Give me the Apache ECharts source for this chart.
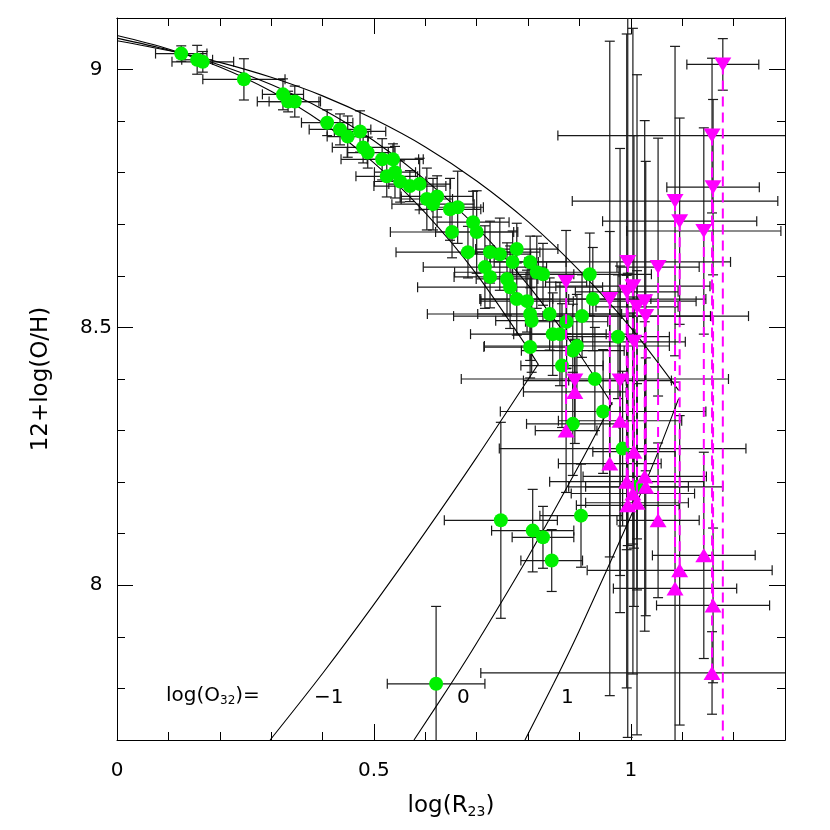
<!DOCTYPE html>
<html>
<head>
<meta charset="utf-8">
<script src="https://cdn.jsdelivr.net/npm/echarts@6/dist/echarts.min.js"></script>
<style>
  html, body { margin: 0; padding: 0; background: #fff; }
  #chart { width: 830px; height: 830px; }
</style>
</head>
<body>
<div id="chart"></div>
<script>
// axis ticks
var xLabels = [0, 0.5, 1];
var xMinor = [0.1, 0.2, 0.3, 0.4, 0.6, 0.7, 0.8, 0.9, 1.1, 1.2];
var yLabels = [8, 8.5, 9];
var yMinor = [7.8, 7.9, 8.1, 8.2, 8.3, 8.4, 8.6, 8.7, 8.8, 8.9];

// calibration curves, log(O32) = -1, 0, 1
var upX_m1 = [0, 0.1, 0.2, 0.3, 0.4, 0.5, 0.6, 0.7, 0.8, 0.82];
var upY_m1 = [9.066, 9.040, 9.005, 8.958, 8.897, 8.819, 8.722, 8.603, 8.459, 8.428];
var upX_0 = [0, 0.1, 0.2, 0.3, 0.4, 0.5, 0.6, 0.7, 0.8, 0.9, 0.964];
var upY_0 = [9.061, 9.038, 9.009, 8.971, 8.923, 8.862, 8.786, 8.694, 8.582, 8.448, 8.350];
var upX_1 = [0, 0.1, 0.2, 0.3, 0.4, 0.5, 0.6, 0.7, 0.8, 0.9, 1.0, 1.093];
var upY_1 = [9.056, 9.037, 9.014, 8.985, 8.949, 8.904, 8.850, 8.784, 8.705, 8.610, 8.499, 8.378];
var loX_m1 = [0.298, 0.4, 0.5, 0.6, 0.7, 0.8, 0.82];
var loY_m1 = [7.70, 7.829, 7.963, 8.103, 8.248, 8.399, 8.429];
var loX_0 = [0.578, 0.65, 0.7, 0.8, 0.9, 0.964];
var loY_0 = [7.70, 7.809, 7.888, 8.055, 8.234, 8.355];
var loX_1 = [0.794, 0.85, 0.9, 1.0, 1.05, 1.093];
var loY_1 = [7.70, 7.810, 7.913, 8.134, 8.251, 8.362];

// green galaxies
var greenX = [0.125, 0.156, 0.167, 0.247, 0.323, 0.333, 0.346, 0.409, 0.434, 0.449,
              0.473, 0.479, 0.488, 0.516, 0.537, 0.525, 0.541, 0.551, 0.570, 0.589,
              0.603, 0.623, 0.615, 0.648, 0.663, 0.652, 0.693, 0.700, 0.683, 0.726,
              0.745, 0.778, 0.716, 0.726, 0.759, 0.770, 0.804, 0.817, 0.829, 0.765,
              0.778, 0.798, 0.804, 0.807, 0.842, 0.905, 0.875, 0.848, 0.862, 0.920,
              0.926, 0.804, 0.895, 0.887, 0.866, 0.930, 0.975, 0.946, 0.887, 0.984,
              1.012, 0.903, 0.747, 0.809, 0.829, 0.846, 0.621];
var greenY = [9.031, 9.019, 9.015, 8.981, 8.952, 8.938, 8.938, 8.897, 8.884, 8.870,
              8.880, 8.849, 8.839, 8.826, 8.826, 8.793, 8.801, 8.783, 8.774, 8.778,
              8.749, 8.754, 8.739, 8.729, 8.733, 8.685, 8.704, 8.685, 8.646, 8.646,
              8.642, 8.652, 8.617, 8.598, 8.594, 8.627, 8.627, 8.607, 8.603, 8.578,
              8.555, 8.551, 8.526, 8.513, 8.526, 8.522, 8.511, 8.487, 8.487, 8.603,
              8.555, 8.462, 8.464, 8.455, 8.426, 8.400, 8.482, 8.337, 8.313, 8.265,
              8.191, 8.135, 8.126, 8.106, 8.093, 8.048, 7.809];
var greenXErr = [0.05, 0.03, 0.06, 0.08, 0.04, 0.06, 0.05, 0.05, 0.06, 0.04,
                 0.05, 0.06, 0.04, 0.08, 0.05, 0.06, 0.04, 0.05, 0.07, 0.06,
                 0.05, 0.07, 0.08, 0.06, 0.05, 0.12, 0.07, 0.08, 0.14, 0.05,
                 0.06, 0.08, 0.12, 0.07, 0.06, 0.05, 0.07, 0.16, 0.06, 0.18,
                 0.07, 0.09, 0.20, 0.07, 0.14, 0.25, 0.08, 0.16, 0.09, 0.12,
                 0.22, 0.09, 0.18, 0.10, 0.08, 0.26, 0.10, 0.20, 0.09, 0.24,
                 0.10, 0.08, 0.11, 0.08, 0.06, 0.06, 0.095];
var greenYErr = [0.015, 0.028, 0.02, 0.04, 0.03, 0.02, 0.03, 0.025, 0.03, 0.04,
                 0.04, 0.03, 0.03, 0.04, 0.03, 0.04, 0.05, 0.04, 0.03, 0.05,
                 0.06, 0.04, 0.05, 0.06, 0.07, 0.05, 0.06, 0.08, 0.05, 0.06,
                 0.07, 0.05, 0.08, 0.06, 0.07, 0.06, 0.05, 0.07, 0.06, 0.08,
                 0.07, 0.06, 0.09, 0.10, 0.07, 0.08, 0.09, 0.08, 0.10, 0.08,
                 0.10, 0.06, 0.10, 0.09, 0.12, 0.10, 0.12, 0.12, 0.10, 0.15,
                 0.20, 0.10, 0.19, 0.08, 0.06, 0.06, 0.15];

// magenta galaxies: upper-branch (down triangle) and lower-branch (up triangle) solutions
var magX     = [0.874, 0.891, 0.959, 0.979, 0.992, 0.994, 1.004, 1.006, 1.012, 1.027,
                1.029, 1.053, 1.086, 1.095, 1.142, 1.158, 1.160, 1.179];
var magUpper = [8.588, 8.397, 8.555, 8.397, 8.569, 8.627, 8.580, 8.472, 8.540, 8.551,
                8.522, 8.617, 8.745, 8.706, 8.687, 8.872, 8.772, 9.010];
var magLower = [8.300, 8.375, 8.236, 8.319, 8.201, 8.155, 8.178, 8.259, 8.160, 8.211,
                8.191, 8.126, 7.994, 8.029, 8.058, 7.830, 7.961, null];
var magUpXErr = [0.04, 0.10, 0.08, 0.10, 0.10, 0.20, 0.15, 0.10, 0.08, 0.10,
                 0.20, 0.08, 0.20, 0.15, 0.15, 0.30, 0.09, 0.07];
var magUpYErr = [0.10, 0.08, 0.50, 0.45, 0.50, 0.55, 0.50, 0.40, 0.45, 0.35,
                 0.30, 0.25, 0.30, 0.20, 0.20, 0.15, 0.17, 0.05];
var magLoXErr = [0.06, 0.10, 0.10, 0.12, 0.15, 0.10, 0.12, 0.08, 0.10, 0.12,
                 0.15, 0.08, 0.12, 0.18, 0.10, 0.45, 0.11, 0];
var magLoYErr = [0.12, 0.10, 0.45, 0.30, 0.40, 0.45, 0.35, 0.30, 0.45, 0.30,
                 0.25, 0.15, 0.40, 0.30, 0.20, 0.08, 0.15, 0];

var FONT = 'DejaVu Sans';
var X_MIN = 0, X_MAX = 1.3, Y_MIN = 7.7, Y_MAX = 9.1;

var chart = echarts.init(document.getElementById('chart'));

function zip(xs, ys) {
    var out = [];
    for (var i = 0; i < xs.length; i++) out.push([xs[i], ys[i]]);
    return out;
}

// error bar rows: [x, y, xerr, yerr]
var errRows = [];
for (var i = 0; i < greenX.length; i++) errRows.push([greenX[i], greenY[i], greenXErr[i], greenYErr[i]]);
for (var j = 0; j < magX.length; j++) {
    errRows.push([magX[j], magUpper[j], magUpXErr[j], magUpYErr[j]]);
    if (magLower[j] !== null) errRows.push([magX[j], magLower[j], magLoXErr[j], magLoYErr[j]]);
}

var dashRows = [];
for (var k = 0; k < magX.length; k++) {
    dashRows.push([magX[k], magUpper[k], magLower[k] === null ? Y_MIN : magLower[k]]);
}

function xAxisDef(pos, ticks, len, labels) {
    return {
        type: 'value', min: X_MIN, max: X_MAX, position: pos, gridIndex: 0,
        axisLine: { show: !!labels || pos === 'top', onZero: false, lineStyle: { color: '#000', width: 1 } },
        axisTick: { show: true, inside: true, length: len, customValues: ticks, lineStyle: { color: '#000', width: 1 } },
        axisLabel: labels ? { show: true, customValues: labels, margin: 21, color: '#000', fontSize: 20, fontFamily: FONT } : { show: false },
        splitLine: { show: false }
    };
}
function yAxisDef(pos, ticks, len, labels) {
    return {
        type: 'value', min: Y_MIN, max: Y_MAX, position: pos, gridIndex: 0,
        axisLine: { show: !!labels || pos === 'right', onZero: false, lineStyle: { color: '#000', width: 1 } },
        axisTick: { show: true, inside: true, length: len, customValues: ticks, lineStyle: { color: '#000', width: 1 } },
        axisLabel: labels ? { show: true, customValues: labels, margin: 21, align: 'center', color: '#000', fontSize: 20, fontFamily: FONT } : { show: false },
        splitLine: { show: false }
    };
}

var xAxes = [
    xAxisDef('bottom', [0.5, 1], 16, xLabels),
    xAxisDef('bottom', xMinor, 8, null),
    xAxisDef('top', [0.5, 1], 16, null),
    xAxisDef('top', xMinor, 8, null)
];
xAxes[0].name = '{a|log(R}{s|23}{a|)}';
xAxes[0].nameLocation = 'middle';
xAxes[0].nameGap = 53;
xAxes[0].nameTextStyle = { rich: { a: { fontSize: 23, fontFamily: FONT, color: '#000' }, s: { fontSize: 14, fontFamily: FONT, color: '#000', padding: [12, 0, 0, 0] } } };

var yAxes = [
    yAxisDef('left', yLabels, 16, yLabels),
    yAxisDef('left', yMinor, 8, null),
    yAxisDef('right', yLabels, 16, null),
    yAxisDef('right', yMinor, 8, null)
];
yAxes[0].name = '12+log(O/H)';
yAxes[0].nameLocation = 'middle';
yAxes[0].nameGap = 64;
yAxes[0].nameRotate = 90;
yAxes[0].nameTextStyle = { fontSize: 23, fontFamily: FONT, color: '#000' };

function curve(xs, ys) {
    return {
        type: 'line', data: zip(xs, ys), smooth: 0.3, showSymbol: false, symbol: 'none',
        lineStyle: { color: '#000', width: 1.1 }, z: 3, silent: true, animation: false
    };
}

var option = {
    backgroundColor: '#fff',
    animation: false,
    grid: { left: 117, right: 45, top: 18, bottom: 90, containLabel: false },
    xAxis: xAxes,
    yAxis: yAxes,
    graphic: [
        { type: 'text', left: 166, top: 686, style: { text: '{a|log(O}{s|32}{a|)=}', rich: { a: { fontSize: 20, fontFamily: FONT, fill: '#000' }, s: { fontSize: 12, fontFamily: FONT, fill: '#000', padding: [10, 0, 0, 0] } } } },
        { type: 'text', left: 314, top: 688, style: { text: '\u22121', fontSize: 20, fontFamily: FONT, fill: '#000' } },
        { type: 'text', left: 457, top: 688, style: { text: '0', fontSize: 20, fontFamily: FONT, fill: '#000' } },
        { type: 'text', left: 561, top: 688, style: { text: '1', fontSize: 20, fontFamily: FONT, fill: '#000' } }
    ],
    series: [
        {
            type: 'custom', name: 'errors', data: errRows, clip: true, z: 2, silent: true,
            renderItem: function (params, api) {
                var x = api.value(0), y = api.value(1), ex = api.value(2), ey = api.value(3);
                var l = api.coord([x - ex, y]), r = api.coord([x + ex, y]);
                var t = api.coord([x, y + ey]), b = api.coord([x, y - ey]);
                var st = { stroke: '#1a1a1a', lineWidth: 1.2 };
                var c = 5;
                var kids = [];
                if (ex > 0) {
                    kids.push({ type: 'line', shape: { x1: l[0], y1: l[1], x2: r[0], y2: r[1] }, style: st });
                    kids.push({ type: 'line', shape: { x1: l[0], y1: l[1] - c, x2: l[0], y2: l[1] + c }, style: st });
                    kids.push({ type: 'line', shape: { x1: r[0], y1: r[1] - c, x2: r[0], y2: r[1] + c }, style: st });
                }
                if (ey > 0) {
                    kids.push({ type: 'line', shape: { x1: t[0], y1: t[1], x2: b[0], y2: b[1] }, style: st });
                    kids.push({ type: 'line', shape: { x1: t[0] - c, y1: t[1], x2: t[0] + c, y2: t[1] }, style: st });
                    kids.push({ type: 'line', shape: { x1: b[0] - c, y1: b[1], x2: b[0] + c, y2: b[1] }, style: st });
                }
                return { type: 'group', children: kids };
            }
        },
        curve(upX_m1, upY_m1), curve(upX_0, upY_0), curve(upX_1, upY_1),
        curve(loX_m1, loY_m1), curve(loX_0, loY_0), curve(loX_1, loY_1),
        {
            type: 'scatter', name: 'green', data: zip(greenX, greenY), symbol: 'circle', symbolSize: 14,
            itemStyle: { color: '#00f000', opacity: 1 }, z: 4, silent: true
        },
        {
            type: 'custom', name: 'dashes', data: dashRows, clip: true, z: 5, silent: true,
            renderItem: function (params, api) {
                var p1 = api.coord([api.value(0), api.value(1)]);
                var p2 = api.coord([api.value(0), api.value(2)]);
                return { type: 'line', shape: { x1: p1[0], y1: p1[1], x2: p2[0], y2: p2[1] },
                         style: { stroke: '#ff00ff', lineWidth: 2, lineDash: [10, 6] } };
            }
        },
        {
            type: 'scatter', name: 'upper', data: zip(magX, magUpper), symbol: 'triangle', symbolSize: [17, 14],
            symbolRotate: 180, itemStyle: { color: '#ff00ff', opacity: 1 }, z: 6, silent: true
        },
        {
            type: 'scatter', name: 'lower', data: zip(magX, magLower).filter(function (d) { return d[1] !== null; }),
            symbol: 'triangle', symbolSize: [17, 14], itemStyle: { color: '#ff00ff', opacity: 1 }, z: 6, silent: true
        }
    ]
};

chart.setOption(option);
</script>
</body>
</html>
